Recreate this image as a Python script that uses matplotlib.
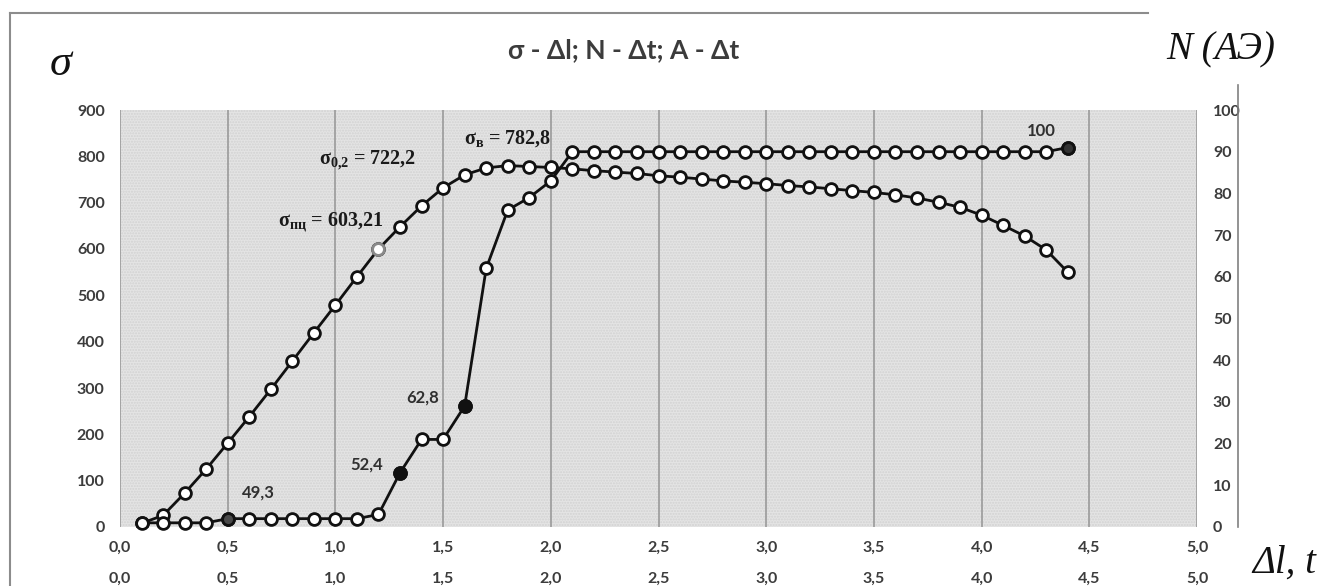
import matplotlib
matplotlib.use("Agg")
import matplotlib.pyplot as plt
from matplotlib.lines import Line2D

# --- data -------------------------------------------------------------
dl = [round(0.1 * i, 1) for i in range(1, 45)]
sigma = [8, 25, 73, 125, 181, 238, 297, 358, 419, 479,
         540, 600, 648, 693, 732, 760, 775, 780, 778, 776,
         773, 769, 766, 763, 758, 755, 751, 747, 744, 741,
         737, 734, 730, 726, 722, 717, 710, 701, 690, 673,
         651, 628, 598, 550]
n_ae = [1, 1, 1, 1, 2, 2, 2, 2, 2, 2,
        2, 3, 13, 21, 21, 29, 62, 76, 79, 83,
        90, 90, 90, 90, 90, 90, 90, 90, 90, 90,
        90, 90, 90, 90, 90, 90, 90, 90, 90, 90,
        90, 90, 90, 91]
# highlighted N points and their labels
n_marked_x = [0.5, 1.3, 1.6, 4.4]
n_marked_labels = ["49,3", "52,4", "62,8", "100"]
n_marked_colors = ["#4a4a4a", "#111111", "#111111", "#333333"]
n_label_offsets = [(22, 19), (-24, 6), (-30, 6), (-19, 12)]
sigma_pc_x = 1.2

x_ticks = [0.5 * i for i in range(11)]
x_ticklabels = ["0,0", "0,5", "1,0", "1,5", "2,0", "2,5", "3,0", "3,5", "4,0", "4,5", "5,0"]
sigma_ticks = list(range(0, 901, 100))
n_ticks = list(range(0, 101, 10))

title = "σ - Δl; N - Δt; A - Δt"

sans = ["Lato", "Noto Sans", "DejaVu Sans"]
serif = ["Liberation Serif", "DejaVu Serif"]
grey_txt = "#3c3c3c"

plt.rcParams["font.family"] = sans
plt.rcParams["font.weight"] = "bold"
plt.rcParams["mathtext.fontset"] = "custom"
plt.rcParams["mathtext.rm"] = "Liberation Serif:bold"
plt.rcParams["mathtext.it"] = "Liberation Serif:bold"
plt.rcParams["mathtext.bf"] = "Liberation Serif:bold"

W, H = 1319, 586
fig = plt.figure(figsize=(W / 100, H / 100), dpi=100)
ax = fig.add_axes([120 / W, 1 - 527 / H, 1077 / W, 417 / H])
ax.set_facecolor("#e4e4e4")
ax.add_patch(plt.Rectangle((0, 0), 1, 1, transform=ax.transAxes, fill=False,
                           hatch="......", edgecolor="#d2d2d2", linewidth=0, zorder=0))
for s in ax.spines.values():
    s.set_visible(False)

ax.set_xlim(0, 5)
ax.set_ylim(0, 900)
ax.set_xticks(x_ticks)
ax.set_xticklabels(x_ticklabels)
ax.set_yticks(sigma_ticks)
ax.grid(axis="x", color="#9a9a9a", linewidth=1.2)
ax.set_axisbelow(True)
ax.tick_params(axis="both", length=0, labelsize=11.5, labelcolor=grey_txt)
ax.tick_params(axis="x", pad=10)
ax.tick_params(axis="y", pad=11)

# second row of x labels
sec = ax.secondary_xaxis(-31 / 417)
sec.set_xticks(x_ticks)
sec.set_xticklabels(x_ticklabels)
sec.spines["bottom"].set_visible(False)
sec.tick_params(length=0, pad=10, labelsize=11.5, labelcolor=grey_txt)

# sigma curve
mk = dict(marker="o", markersize=8.5, markerfacecolor="white",
          markeredgecolor="#111111", markeredgewidth=2)
ax.plot(dl, sigma, color="#111111", linewidth=2, zorder=3, **mk)
i_pc = dl.index(sigma_pc_x)
ax.plot([dl[i_pc]], [sigma[i_pc]], "o", markersize=8.5, markerfacecolor="white",
        markeredgecolor="#8a8a8a", markeredgewidth=2, zorder=4)

# N curve on right axis
ax2 = ax.twinx()
for s in ["top", "left", "bottom"]:
    ax2.spines[s].set_visible(False)
ax2.spines["right"].set_position(("outward", 29.5))
ax2.spines["right"].set_color("#808080")
ax2.spines["right"].set_linewidth(1.2)
ax2.spines["right"].set_bounds(0, 106)
ax2.set_ylim(0, 100)
ax2.set_yticks(n_ticks)
ax2.tick_params(axis="y", length=0, pad=-18, labelsize=11.5, labelcolor=grey_txt)
ax2.plot(dl, n_ae, color="#111111", linewidth=2, zorder=3, clip_on=False, **mk)
for xm, lab, col, off in zip(n_marked_x, n_marked_labels, n_marked_colors, n_label_offsets):
    i = dl.index(xm)
    ax2.plot([xm], [n_ae[i]], "o", markersize=8.5, markerfacecolor=col,
             markeredgecolor="#111111", markeredgewidth=2, zorder=4, clip_on=False)
    ax2.annotate(lab, (xm, n_ae[i]), xytext=off, textcoords="offset points",
                 ha="center", va="center", fontsize=12, fontweight="bold",
                 color="#303030")

# characteristic stresses
stress_kw = dict(ha="center", va="center", fontsize=14.5, family=serif,
                 fontweight="bold", color="#1a1a1a")
ax.text(1.15, 792, r"$\mathrm{σ_{0{,}2}}$ = 722,2", **stress_kw)
ax.text(0.98, 658, r"$\mathrm{σ_{пц}}$ = 603,21", **stress_kw)
ax.text(1.80, 839, r"$\mathrm{σ_{в}}$ = 782,8", **stress_kw)

# titles and axis names
fig.text(624 / W, 1 - 50 / H, title, ha="center", va="center", fontsize=19,
         fontweight="bold", color=grey_txt)
fig.text(61 / W, 1 - 64 / H, "σ", ha="center", va="center", fontsize=32,
         family=serif, style="italic", fontweight="normal", color="#111111")
fig.text(1221 / W, 1 - 50 / H, "N (АЭ)", ha="center", va="center", fontsize=28,
         family=serif, style="italic", fontweight="normal", color="#111111")
fig.text(1284 / W, 1 - 563 / H, "Δl, t", ha="center", va="center", fontsize=28,
         family=serif, style="italic", fontweight="normal", color="#111111")

# outer frame (partially visible)
fig.add_artist(Line2D([10 / W, 10 / W], [0, 1 - 13 / H], transform=fig.transFigure,
                      color="#8c8c8c", linewidth=1.5))
fig.add_artist(Line2D([10 / W, 1148 / W], [1 - 13 / H, 1 - 13 / H], transform=fig.transFigure,
                      color="#8c8c8c", linewidth=1.5))

fig.savefig("out.png", dpi=100, facecolor="white")
